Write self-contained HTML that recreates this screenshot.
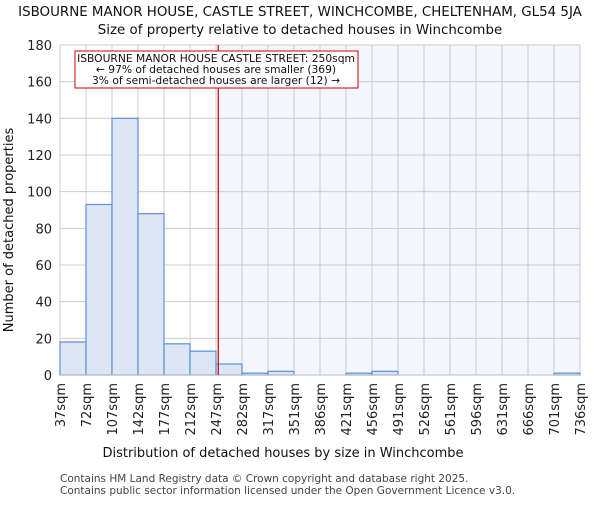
<!DOCTYPE html>
<html><head><meta charset="utf-8"><style>body{margin:0;background:#fff}svg{font-family:"DejaVu Sans","Liberation Sans",sans-serif}</style></head>
<body>
<svg id="c" width="600" height="500" xmlns="http://www.w3.org/2000/svg"></svg>
<script>
const binLabels=["37sqm","72sqm","107sqm","142sqm","177sqm","212sqm","247sqm","282sqm","317sqm","351sqm","386sqm","421sqm","456sqm","491sqm","526sqm","561sqm","596sqm","631sqm","666sqm","701sqm","736sqm"];
const counts=[18,93,140,88,17,13,6,1,2,0,0,1,2,0,0,0,0,0,0,1];
const yTicks=[0,20,40,60,80,100,120,140,160,180];
const propertyValue=250;
const L=60,R=580,T=45,B=375,yMax=180;
const bw=(R-L)/counts.length;
const y=v=>B-(v/yMax)*(B-T);
const edges=binLabels.map(s=>parseFloat(s));
function xs(v){for(let i=0;i<edges.length-1;i++){if(v>=edges[i]&&v<=edges[i+1])return L+(i+(v-edges[i])/(edges[i+1]-edges[i]))*bw;}return R;}
const svg=document.getElementById('c');const NS="http://www.w3.org/2000/svg";
function el(t,a,p){const e=document.createElementNS(NS,t);for(const k in a)e.setAttribute(k,a[k]);(p||svg).appendChild(e);return e;}
function tx(s,a){const e=el('text',a);e.textContent=s;return e;}
const px=xs(propertyValue);
let e=el('rect',{x:px,y:T,width:R-px,height:B-T,fill:'#f3f6fd'});


for(let i=0;i<=counts.length;i++){e=el('line',{x1:L+i*bw,x2:L+i*bw,y1:T,y2:B,stroke:'#cccccc'});

}
yTicks.forEach(t=>{e=el('line',{x1:L,x2:R,y1:y(t),y2:y(t),stroke:'#cccccc'});


e=tx(t,{x:L-8,y:y(t)+5,'text-anchor':'end','font-size':13,fill:'#222'});

});
counts.forEach((c,i)=>{if(c<=0)return;e=el('rect',{x:L+i*bw,y:y(c),width:bw,height:B-y(c),fill:'#dce6f4',stroke:'#5b8fd6','stroke-width':1.2});

});
binLabels.forEach((s,i)=>{const xx=L+i*bw;e=tx(s,{x:0,y:0,'font-size':13,fill:'#222','text-anchor':'end',transform:`translate(${xx+5},${B+8}) rotate(-90)`});

});
e=el('line',{x1:L,x2:R,y1:B,y2:B,stroke:'#bbb'});


e=el('line',{x1:px,x2:px,y1:T,y2:B,stroke:'#cc0000','stroke-width':1.2});


e=el('rect',{x:75,y:51,width:283,height:37,fill:'#fff',stroke:'#cc0000'});


["ISBOURNE MANOR HOUSE CASTLE STREET: 250sqm","← 97% of detached houses are smaller (369)","3% of semi-detached houses are larger (12) →"].forEach((s,i)=>{e=tx(s,{x:216,y:62+i*11,'text-anchor':'middle','font-size':10.7,fill:'#111'});

});
e=tx("ISBOURNE MANOR HOUSE, CASTLE STREET, WINCHCOMBE, CHELTENHAM, GL54 5JA",{x:300,y:16,'text-anchor':'middle','font-size':13.4,fill:'#111'});


e=tx("Size of property relative to detached houses in Winchcombe",{x:300,y:34,'text-anchor':'middle','font-size':13.4,fill:'#111'});


e=tx("Distribution of detached houses by size in Winchcombe",{x:283,y:457,'text-anchor':'middle','font-size':13,fill:'#111'});


e=tx("Number of detached properties",{x:0,y:0,'text-anchor':'middle','font-size':13,fill:'#111',transform:'translate(13,230) rotate(-90)'});


e=tx("Contains HM Land Registry data © Crown copyright and database right 2025.",{x:60,y:482,'font-size':10.5,fill:'#444'});


e=tx("Contains public sector information licensed under the Open Government Licence v3.0.",{x:60,y:494,'font-size':10.5,fill:'#444'});


</script>
</body></html>
